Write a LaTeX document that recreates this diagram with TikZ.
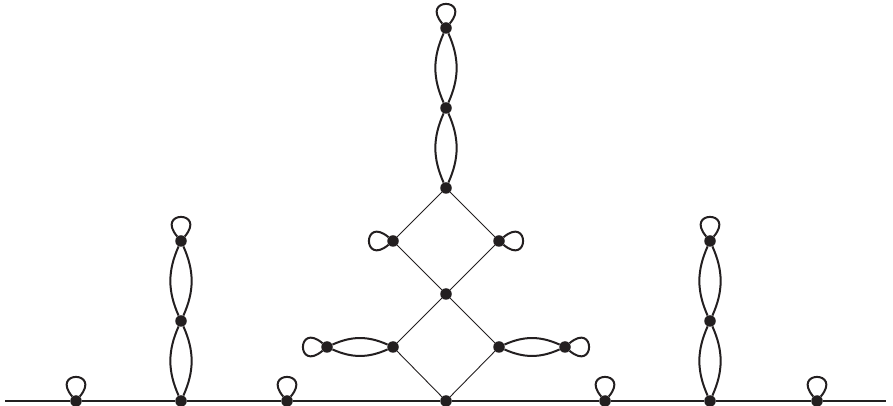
\documentclass[tikz,border=0pt]{standalone}
\usepackage{xcolor}
\usepackage{tikz}
\usetikzlibrary{
  arrows.meta,
  positioning,
  calc
}
\definecolor{dotcol}{HTML}{231F20}

\begin{document}
\begin{tikzpicture}[x=1pt, y=1pt,
    vtx/.style={circle, fill=dotcol, inner sep=0pt, minimum size=11.5pt},
    lens/.style={line width=2pt, dotcol},
    rung/.style={line width=0.9pt, dotcol},
    loopup/.style={line width=2pt, dotcol, out=130, in=50, looseness=8, min distance=34pt},
    loopleft/.style={line width=2pt, dotcol, out=220, in=140, looseness=8, min distance=34pt},
    loopright/.style={line width=2pt, dotcol, out=40, in=-40, looseness=8, min distance=34pt}]
  \useasboundingbox (0,0) rectangle (893,406);
  % base line
  \coordinate (west) at (5,5);
  \coordinate (east) at (886,5);
  \foreach \n/\x in {b1/76, b2/181, b3/287, b4/446, b5/605, b6/710, b7/817}
    \node[vtx] (\n) at (\x,5) {};
  \draw[line width=2.4pt, dotcol] (west) -- (b1) -- (b2) -- (b3) -- (b4) -- (b5) -- (b6) -- (b7) -- (east);
  % side chains
  \node[vtx] (l1) at (181,85) {};
  \node[vtx] (l2) at (181,165) {};
  \node[vtx] (r1) at (710,85) {};
  \node[vtx] (r2) at (710,165) {};
  % middle
  \node[vtx] (dl) at (393,59) {};
  \node[vtx] (dr) at (499,59) {};
  \node[vtx] (dm) at (446,112) {};
  \node[vtx] (ul) at (393,165) {};
  \node[vtx] (ur) at (499,165) {};
  \node[vtx] (c1) at (446,218) {};
  \node[vtx] (c2) at (446,298) {};
  \node[vtx] (c3) at (446,378) {};
  \node[vtx] (hl) at (327,59) {};
  \node[vtx] (hr) at (565,59) {};
  % double edges
  \foreach \a/\b in {b2/l1, l1/l2, b6/r1, r1/r2, c1/c2, c2/c3, hl/dl, dr/hr} {
    \draw[lens] (\a) to[bend left=24] (\b);
    \draw[lens] (\a) to[bend right=24] (\b);
  }
  % diamonds
  \draw[rung] (b4) -- (dl) -- (dm) -- (dr) -- (b4);
  \draw[rung] (dm) -- (ul) -- (c1) -- (ur) -- (dm);
  % loops
  \foreach \n in {b1, b3, b5, b7, l2, r2, c3}
    \draw[loopup] (\n) to (\n);
  \draw[loopleft] (ul) to (ul);
  \draw[loopleft] (hl) to (hl);
  \draw[loopright] (ur) to (ur);
  \draw[loopright] (hr) to (hr);
\end{tikzpicture}
\end{document}
